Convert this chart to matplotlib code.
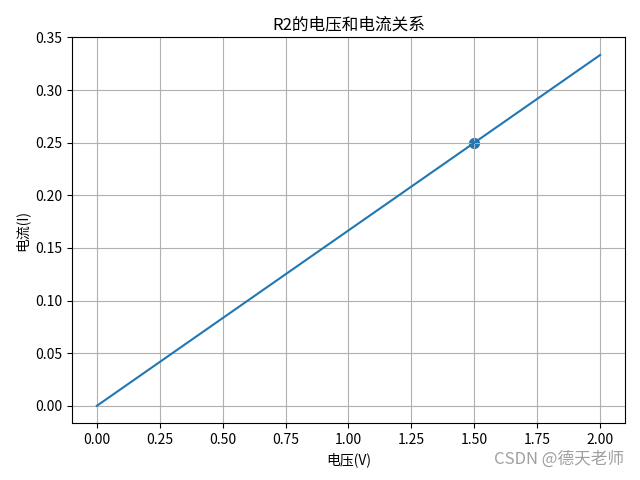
import matplotlib

matplotlib.use("Agg")
import matplotlib.pyplot as plt

plt.rcParams["font.family"] = ["Noto Sans CJK SC", "DejaVu Sans"]
plt.rcParams["axes.unicode_minus"] = False

# line of R2: voltage (V) vs current (I)
voltage = [0.0, 2.0]
current = [0.0, 0.3333]

# measured point
point_v = [1.5]
point_i = [0.25]

fig, ax = plt.subplots(figsize=(6.4, 4.8), dpi=100)
ax.plot(voltage, current)
ax.scatter(point_v, point_i, s=50)
ax.set_title("R2的电压和电流关系")
ax.set_xlabel("电压(V)")
ax.set_ylabel("电流(I)")
ax.set_xticks([0.0, 0.25, 0.5, 0.75, 1.0, 1.25, 1.5, 1.75, 2.0])
ax.set_yticks([0.0, 0.05, 0.1, 0.15, 0.2, 0.25, 0.3, 0.35])
ax.grid(True)
fig.subplots_adjust(left=0.112, right=0.977, bottom=0.118, top=0.922)

fig.text(0.975, 0.025, "CSDN @德天老师", ha="right", va="bottom",
         fontsize=12, color="#a0a0a0")

fig.savefig("out.png", dpi=100)
